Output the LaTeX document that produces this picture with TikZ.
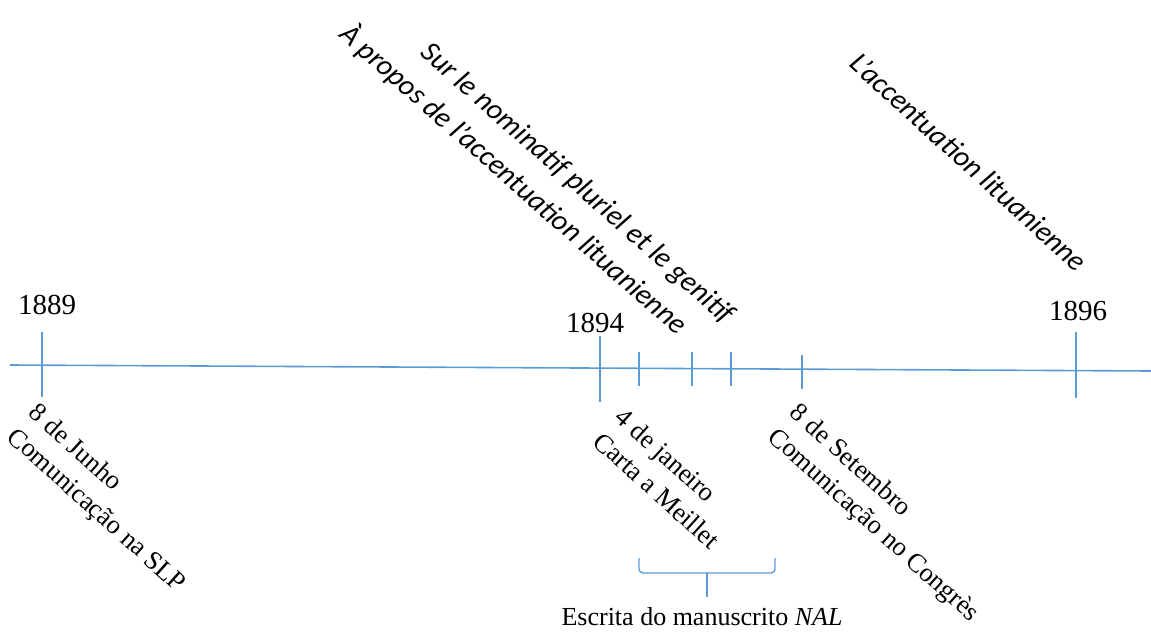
\documentclass[tikz,border=0pt]{standalone}
\usepackage{fontspec}
\setmainfont{Liberation Serif}
\newfontfamily\calfont{Carlito}
\definecolor{lineblue}{HTML}{5B9BD5}
\begin{document}
\begin{tikzpicture}[x=1pt,y=-1pt,
  axis/.style={draw=lineblue,line width=1.6pt},
  tickmark/.style={draw=lineblue,line width=1.6pt},
  year/.style={font=\fontsize{29}{34}\selectfont,inner sep=0pt},
  title/.style={font=\calfont\itshape\fontsize{29.2}{34}\selectfont,inner sep=0pt,rotate=-41.5},
  event/.style={font=\fontsize{26.5}{32.5}\selectfont,inner sep=0pt,rotate=-42,anchor=north west,align=left},
]
\useasboundingbox (0,0) rectangle (1151,637);
% axis
\coordinate (axL) at (10,365);
\coordinate (axR) at (1151,371);
\draw[axis] (axL) -- (axR);
% ticks
\draw[tickmark] (42,332) -- (42,397);
\draw[tickmark] (600,336) -- (600,402);
\draw[tickmark] (639,352) -- (639,386);
\draw[tickmark] (692,352) -- (692,386);
\draw[tickmark] (731,352) -- (731,386);
\draw[tickmark] (802,355) -- (802,389);
\draw[tickmark] (1076,332) -- (1076,398);
% years
\node[year] (y1889) at (47,305) {1889};
\node[year] (y1894) at (595,323) {1894};
\node[year] (y1896) at (1078,311) {1896};
% titles
\node[title] (sur) at (577,184) {Sur le nominatif pluriel et le genitif};
\node[title] (apropos) at (514,179) {À propos de l’accentuation lituanienne};
\node[title,rotate=-0.8] (accent) at (969,162) {L’accentuation lituanienne};
% events
\node[event] (ev1) at (40,401) {8 de Junho\\Comunicação na SLP};
\node[event] (ev2) at (626,406) {4 de janeiro\\Carta a Meillet};
\node[event] (ev3) at (801,401) {8 de Setembro\\Comunicação no Congrès};
% brace
\coordinate (brL) at (639,558);
\coordinate (brR) at (775,558);
\coordinate (brM) at (707,573);
\coordinate (brT) at (707,597);
\draw[draw=lineblue,line width=1.4pt,rounded corners=4pt] (brL) |- (brM) -| (brR);
\draw[draw=lineblue,line width=1.4pt] (brM) -- (brT);
\node[font=\fontsize{26}{31}\selectfont,inner sep=0pt] (nal) at (702,617) {Escrita do manuscrito \textit{NAL}};
\end{tikzpicture}
\end{document}
